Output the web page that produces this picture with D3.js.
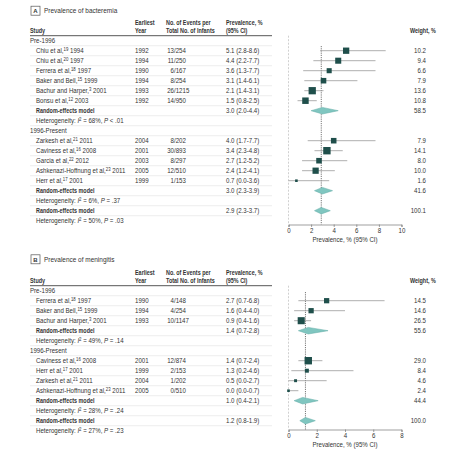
<!DOCTYPE html>
<html><head><meta charset="utf-8">
<script src="https://cdn.jsdelivr.net/npm/d3@7"></script>
<style>
body{margin:0;background:#fff;}
text{font-family:"Liberation Sans",Arial,sans-serif;fill:#333;}
</style></head><body>
<svg id="c" width="467" height="453"></svg>
<script>
// ---------- Panel A: bacteremia ----------
const bactPreNames = ["Chiu et al,","Chiu et al,","Ferrera et al,","Baker and Bell,","Bachur and Harper,","Bonsu et al,"];
const bactPreRefs = ["19","20","18","15","3","12"];
const bactPrePub = ["1994","1997","1997","1999","2001","2003"];
const bactPreYear = ["1992","1994","1990","1994","1993","1992"];
const bactPreEvents = [13,11,6,8,26,14];
const bactPreTotal = [254,250,167,254,1215,950];
const bactPreEst = [5.1,4.4,3.6,3.1,2.1,1.5];
const bactPreLo = [2.8,2.2,1.3,1.4,1.4,0.8];
const bactPreHi = [8.6,7.7,7.7,6.1,3.1,2.5];
const bactPreW = ["10.2","9.4","6.6","7.9","13.6","10.8"];
const bactPreRem = {est:3.0, lo:2.0, hi:4.4, w:"58.5", i2:"68%", p:"< .01"};

const bactPostNames = ["Zarkesh et al,","Caviness et al,","Garcia et al,","Ashkenazi-Hoffnung et al,","Herr et al,"];
const bactPostRefs = ["21","16","22","23","17"];
const bactPostPub = ["2011","2008","2012","2011","2001"];
const bactPostYear = ["2004","2001","2003","2005","1999"];
const bactPostEvents = [8,30,8,12,1];
const bactPostTotal = [202,893,297,510,153];
const bactPostEst = [4.0,3.4,2.7,2.4,0.7];
const bactPostLo = [1.7,2.3,1.2,1.2,0.0];
const bactPostHi = [7.7,4.8,5.2,4.1,3.6];
const bactPostW = ["7.9","14.1","8.0","10.0","1.6"];
const bactPostRem = {est:3.0, lo:2.3, hi:3.9, w:"41.6", i2:"6%", p:"= .37"};
const bactAll = {est:2.9, lo:2.3, hi:3.7, w:"100.1", i2:"50%", p:"= .03"};
const bactTicks = [0,2,4,6,8,10];

// ---------- Panel B: meningitis ----------
const menPreNames = ["Ferrera et al,","Baker and Bell,","Bachur and Harper,"];
const menPreRefs = ["18","15","3"];
const menPrePub = ["1997","1999","2001"];
const menPreYear = ["1990","1994","1993"];
const menPreEvents = [4,4,10];
const menPreTotal = [148,254,1147];
const menPreEst = [2.7,1.6,0.9];
const menPreLo = [0.7,0.4,0.4];
const menPreHi = [6.8,4.0,1.6];
const menPreW = ["14.5","14.6","26.5"];
const menPreRem = {est:1.4, lo:0.7, hi:2.8, w:"55.6", i2:"49%", p:"= .14"};

const menPostNames = ["Caviness et al,","Herr et al,","Zarkesh et al,","Ashkenazi-Hoffnung et al,"];
const menPostRefs = ["16","17","21","23"];
const menPostPub = ["2008","2001","2011","2011"];
const menPostYear = ["2001","1999","2004","2005"];
const menPostEvents = [12,2,1,0];
const menPostTotal = [874,153,202,510];
const menPostEst = [1.4,1.3,0.5,0.0];
const menPostLo = [0.7,0.2,0.0,0.0];
const menPostHi = [2.4,4.6,2.7,0.7];
const menPostW = ["29.0","8.4","4.6","2.4"];
const menPostRem = {est:1.0, lo:0.4, hi:2.1, w:"44.4", i2:"28%", p:"= .24"};
const menAll = {est:1.2, lo:0.8, hi:1.9, w:"100.0", i2:"27%", p:"= .23"};
const menTicks = [0,2,4,6,8];

function studies(names, refs, pub, year, ev, tot, est, lo, hi, w){
  return names.map((n,i)=>({type:"study", name:n, ref:refs[i], pub:pub[i], year:year[i],
    ev:ev[i], tot:tot[i], est:est[i], lo:lo[i], hi:hi[i], w:w[i]}));
}

const svg = d3.select("#c");
const fmt = d3.format(".1f");
const COL = {study:30, indent:36, year:135, slash:174, ev:166, prev:226, wRight:426, wHead:410};
const FS = 6.8, SX = 0.9, SXB = 0.8;

// condensed text helper
function txt(parent, x, y, opts={}){
  const bold = !!opts.bold;
  const t = parent.append("text")
    .attr("transform",`translate(${x},${y}) scale(${opts.sx || (bold?SXB:SX)},1)`)
    .attr("font-size", opts.fs || FS)
    .attr("text-anchor", opts.anchor || "start");
  if(bold) t.style("font-weight","bold");
  if(opts.text !== undefined) t.text(opts.text);
  return t;
}

function panel(cfg){
  const g = svg.append("g");
  const rows = [];
  rows.push({type:"group", label:"Pre-1996"});
  cfg.pre.forEach(d=>rows.push(d));
  rows.push(Object.assign({type:"rem", sub:true}, cfg.preRem));
  rows.push({type:"het", i2:cfg.preRem.i2, p:cfg.preRem.p});
  rows.push({type:"group", label:"1996-Present"});
  cfg.post.forEach(d=>rows.push(d));
  rows.push(Object.assign({type:"rem", sub:true}, cfg.postRem));
  rows.push({type:"het", i2:cfg.postRem.i2, p:cfg.postRem.p});
  rows.push(Object.assign({type:"rem", sub:false}, cfg.all));
  rows.push({type:"het", i2:cfg.all.i2, p:cfg.all.p});

  const y = i => cfg.y0 + 10*i;
  const x = d3.scaleLinear().domain(cfg.domain).range([288.5, 401.5]);

  // title
  g.append("rect").attr("x",31).attr("y",cfg.titleY-4.5).attr("width",9).attr("height",9)
    .attr("fill","#fff").attr("stroke","#555").attr("stroke-width",0.7);
  txt(g, 35.5, cfg.titleY+2.3, {text:cfg.letter, anchor:"middle", bold:true, fs:6, sx:1});
  txt(g, 44, cfg.titleY+2.5, {text:cfg.title, fs:7.2});

  // header
  const hy = cfg.y0 - 7.5;
  txt(g, COL.study, hy, {text:"Study", bold:true});
  txt(g, COL.year, hy-8, {text:"Earliest", bold:true});
  txt(g, COL.year, hy, {text:"Year", bold:true});
  txt(g, COL.ev, hy-8, {text:"No. of Events per", bold:true});
  txt(g, COL.ev, hy, {text:"Total No. of Infants", bold:true});
  txt(g, COL.prev, hy-8, {text:"Prevalence, %", bold:true});
  txt(g, COL.prev, hy, {text:"(95% CI)", bold:true});
  txt(g, COL.wHead, hy, {text:"Weight, %", bold:true});
  g.append("line").attr("x1",30).attr("x2",272).attr("y1",cfg.y0-5).attr("y2",cfg.y0-5)
    .attr("stroke","#444").attr("stroke-width",0.9);

  // separators
  rows.forEach((r,i)=>{
    if(i===rows.length-1) return;
    g.append("line").attr("x1",30).attr("x2",272).attr("y1",y(i)+5).attr("y2",y(i)+5)
      .attr("stroke","#e3e3e3").attr("stroke-width",0.6);
  });

  const plotTop = cfg.y0 - 5;
  g.append("line").attr("x1",x(0)).attr("x2",x(0)).attr("y1",plotTop).attr("y2",cfg.axisY)
    .attr("stroke","#bbb").attr("stroke-width",0.7).attr("stroke-dasharray","2,1.5");
  g.append("line").attr("x1",x(cfg.all.est)).attr("x2",x(cfg.all.est))
    .attr("y1",cfg.refTop).attr("y2",cfg.axisY)
    .attr("stroke","#555").attr("stroke-width",0.8).attr("stroke-dasharray","1.2,1");

  const wmax = d3.max(rows.filter(r=>r.type==="study"), r=>+r.w);
  const side = d3.scaleSqrt().domain([0,wmax]).range([0,7.4]);

  rows.forEach((r,i)=>{
    const yc = y(i), yb = yc+2.4;
    if(r.type==="group"){
      txt(g, COL.study, yb, {text:r.label});
    } else if(r.type==="study"){
      const tx = txt(g, COL.indent, yb);
      tx.append("tspan").text(r.name);
      tx.append("tspan").attr("font-size",4.8).attr("dy",-2.6).text(r.ref);
      tx.append("tspan").attr("dy",2.6).text(" "+r.pub);
      txt(g, COL.year, yb, {text:r.year});
      txt(g, COL.slash, yb, {text:r.ev, anchor:"end"});
      txt(g, COL.slash, yb, {text:"/"+r.tot});
      txt(g, COL.prev, yb, {text:`${fmt(r.est)} (${fmt(r.lo)}-${fmt(r.hi)})`});
      txt(g, COL.wRight, yb, {text:r.w, anchor:"end"});
      g.append("line").attr("x1",x(r.lo)).attr("x2",x(r.hi)).attr("y1",yc).attr("y2",yc)
        .attr("stroke","#9a9a9a").attr("stroke-width",0.8);
      const s = Math.max(2.6, side(+r.w));
      g.append("rect").attr("x",x(r.est)-s/2).attr("y",yc-s/2).attr("width",s).attr("height",s)
        .attr("fill","#1f4f4b");
    } else if(r.type==="rem"){
      txt(g, COL.indent, yb, {text:"Random-effects model", bold:true});
      txt(g, COL.prev, yb, {text:`${fmt(r.est)} (${fmt(r.lo)}-${fmt(r.hi)})`});
      txt(g, COL.wRight, yb, {text:r.w, anchor:"end"});
      const h = 3.3;
      g.append("path")
        .attr("d",`M${x(r.lo)},${yc}L${x(r.est)},${yc-h}L${x(r.hi)},${yc}L${x(r.est)},${yc+h}Z`)
        .attr("fill","#80c6c0").attr("stroke","#5faaa4").attr("stroke-width",0.5);
    } else if(r.type==="het"){
      const tx = txt(g, COL.indent, yb);
      tx.append("tspan").text("Heterogeneity: ");
      tx.append("tspan").style("font-style","italic").text("I");
      tx.append("tspan").attr("font-size",4.8).attr("dy",-2.6).text("2");
      tx.append("tspan").attr("dy",2.6).text(" = "+r.i2+", ");
      tx.append("tspan").style("font-style","italic").text("P");
      tx.append("tspan").text(" "+r.p);
    }
  });

  // axis
  const ax = g.append("g").attr("transform",`translate(0,${cfg.axisY})`)
    .call(d3.axisBottom(x).tickValues(cfg.ticks).tickSize(2.5).tickPadding(1.5).tickFormat(d3.format("d")));
  ax.select(".domain").attr("stroke","#777").attr("stroke-width",0.7);
  ax.selectAll(".tick line").attr("stroke","#777").attr("stroke-width",0.7);
  ax.selectAll(".tick text").attr("font-size",FS).attr("fill","#333")
    .attr("transform",`scale(${SX},1)`)
    .style("font-family",'"Liberation Sans",Arial,sans-serif');
  txt(g, (x.range()[0]+x.range()[1])/2, cfg.axisY+17.5,
    {text:"Prevalence, % (95% CI)", anchor:"middle"});
}

panel({
  letter:"A", title:"Prevalence of bacteremia", titleY:10.7, y0:40.7, axisY:224.5, refTop:46,
  domain:[0,10], ticks:bactTicks,
  pre: studies(bactPreNames,bactPreRefs,bactPrePub,bactPreYear,bactPreEvents,bactPreTotal,bactPreEst,bactPreLo,bactPreHi,bactPreW),
  preRem: bactPreRem,
  post: studies(bactPostNames,bactPostRefs,bactPostPub,bactPostYear,bactPostEvents,bactPostTotal,bactPostEst,bactPostLo,bactPostHi,bactPostW),
  postRem: bactPostRem, all: bactAll
});
panel({
  letter:"B", title:"Prevalence of meningitis", titleY:259.3, y0:290.7, axisY:429.5, refTop:292,
  domain:[0,8], ticks:menTicks,
  pre: studies(menPreNames,menPreRefs,menPrePub,menPreYear,menPreEvents,menPreTotal,menPreEst,menPreLo,menPreHi,menPreW),
  preRem: menPreRem,
  post: studies(menPostNames,menPostRefs,menPostPub,menPostYear,menPostEvents,menPostTotal,menPostEst,menPostLo,menPostHi,menPostW),
  postRem: menPostRem, all: menAll
});
</script></body></html>
